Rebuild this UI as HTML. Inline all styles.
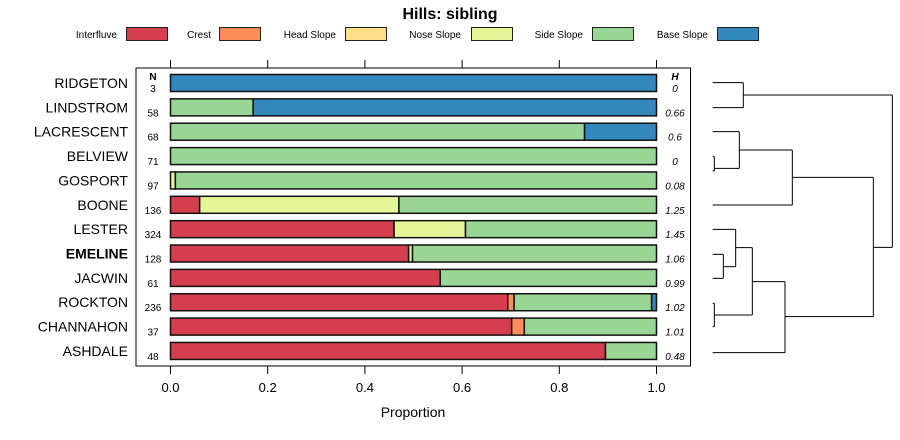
<!DOCTYPE html>
<html><head><meta charset="utf-8"><style>
body{margin:0;background:#fff;}
svg{display:block;font-family:"Liberation Sans",sans-serif;}
</style></head><body>
<svg id="chart" width="900" height="440" viewBox="0 0 900 440">
<text x="450" y="19" text-anchor="middle" font-size="16" font-weight="bold">Hills: sibling</text>
<g id="legend"></g>
<rect x="136" y="68" width="554.5" height="298" fill="none" stroke="#000" stroke-width="1"/>
<g id="bars"></g>
<g id="axis"></g>
<text x="413" y="417" text-anchor="middle" font-size="14">Proportion</text>
<g id="dendro" fill="none" stroke="#000" stroke-width="1"></g>
</svg>
<script>
const categories=["Interfluve","Crest","Head Slope","Nose Slope","Side Slope","Base Slope"];
const colors=["#d53e4f","#fc8d59","#fee08b","#e6f598","#99d594","#3288bd"];
const sites=["RIDGETON","LINDSTROM","LACRESCENT","BELVIEW","GOSPORT","BOONE","LESTER","EMELINE","JACWIN","ROCKTON","CHANNAHON","ASHDALE"];
const nValues=[3,58,68,71,97,136,324,128,61,236,37,48];
const hValues=["0","0.66","0.6","0","0.08","1.25","1.45","1.06","0.99","1.02","1.01","0.48"];
const interfluve=[0,0,0,0,0,0.06,0.46,0.49,0.555,0.694,0.702,0.895];
const crest=[0,0,0,0,0,0,0,0,0,0.013,0.026,0];
const headSlope=[0,0,0,0,0,0,0,0,0,0,0,0];
const noseSlope=[0,0,0,0,0.01,0.41,0.147,0.008,0,0,0,0];
const sideSlope=[0,0.17,0.852,1,0.99,0.53,0.393,0.502,0.445,0.283,0.272,0.105];
const baseSlope=[1,0.83,0.148,0,0,0,0,0,0,0.01,0,0];
const ticks=[0,0.2,0.4,0.6,0.8,1.0];
const tickLabels=["0.0","0.2","0.4","0.6","0.8","1.0"];
const NS="http://www.w3.org/2000/svg";
function mk(t,a,p){const e=document.createElementNS(NS,t);for(const k in a)e.setAttribute(k,a[k]);p.appendChild(e);return e;}
const x=v=>170.5+v*486;
const y=i=>83+i*24.36;
const series=[interfluve,crest,headSlope,noseSlope,sideSlope,baseSlope];
// legend
const lg=document.getElementById('legend');
const lgTextEnd=[117,211,336,461,583,708];
const lgBoxX=[126,219,345,471,592,717];
categories.forEach((c,i)=>{
 const t=mk('text',{x:lgTextEnd[i],y:38,'font-size':10,'text-anchor':'end'},lg);t.textContent=c;
 
 
 const r=mk('rect',{x:lgBoxX[i]+0.5,y:27.5,width:41,height:13,fill:colors[i],stroke:'#222'},lg);
 
 
});
// bars
const bg=document.getElementById('bars');
sites.forEach((s,i)=>{
 const cy=y(i);
 const lab=mk('text',{x:128,y:cy+5,'font-size':14,'text-anchor':'end','font-weight':s==='EMELINE'?'bold':'normal'},bg);lab.textContent=s;
 
 
 const nt=mk('text',{x:153,y:cy+9,'font-size':10,'text-anchor':'middle'},bg);nt.textContent=nValues[i];
 
 
 const ht=mk('text',{x:675,y:cy+9,'font-size':10,'text-anchor':'middle','font-style':'italic'},bg);ht.textContent=hValues[i];
 
 
 let acc=0;
 series.forEach((sv,k)=>{
  const v=sv[i];if(v<=0)return;
  const r=mk('rect',{x:x(acc),y:cy-8.5,width:x(acc+v)-x(acc),height:17,fill:colors[k],stroke:'#111','stroke-width':1.5},bg);
  
  
  acc+=v;
 });
});
const nh=mk('text',{x:153,y:80,'font-size':10,'text-anchor':'middle','font-weight':'bold'},bg);nh.textContent='N';


const hh=mk('text',{x:675,y:80,'font-size':10,'text-anchor':'middle','font-weight':'bold','font-style':'italic'},bg);hh.textContent='H';


// axis
const ax=document.getElementById('axis');
ticks.forEach((t,i)=>{
 mk('line',{x1:x(t),x2:x(t),y1:366,y2:374,stroke:'#000'},ax);
 mk('line',{x1:x(t),x2:x(t),y1:60,y2:68,stroke:'#000'},ax);
 const tl=mk('text',{x:x(t),y:392,'font-size':13,'text-anchor':'middle'},ax);tl.textContent=tickLabels[i];
 
 
});
// dendrogram
const segs=[[68,68,160,68],[68,143,160,143],[160,68,160,143],[160,105,607,105],[607,105,607,562],[550,562,607,562],
[68,215,148,215],[148,215,148,325],[73,325,148,325],[73,290,73,333],[68,290,73,290],[68,333,73,333],[148,270,307,270],[307,270,307,435],[68,435,307,435],[307,352,550,352],[550,352,550,770],
[68,508,137,508],[68,583,100,583],[68,655,100,655],[100,583,100,655],[100,620,137,620],[137,508,137,620],[137,563,187,563],
[73,730,73,800],[68,730,73,730],[68,800,73,800],[73,765,187,765],[187,563,187,765],[187,665,285,665],[285,665,285,878],[68,878,285,878],[285,770,550,770]];
const dg=document.getElementById('dendro');
segs.forEach(s=>{mk('line',{x1:690+s[0]/3,y1:60+s[1]/3,x2:690+s[2]/3,y2:60+s[3]/3},dg);});
</script>
</body></html>
